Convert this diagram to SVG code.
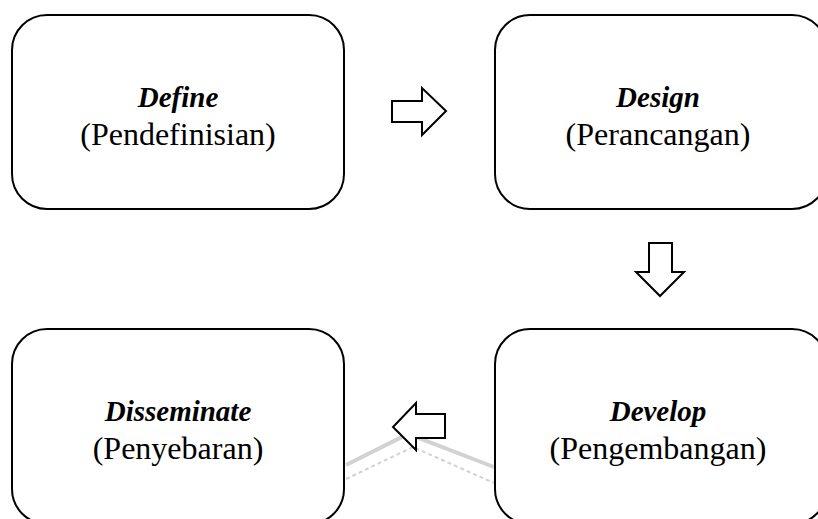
<svg xmlns="http://www.w3.org/2000/svg" width="818" height="519" viewBox="0 0 818 519">
<style>
.box{fill:#fff;stroke:#000;stroke-width:2}
.t1{font-family:"Liberation Serif","Times New Roman",serif;font-size:29px;font-weight:bold;font-style:italic;text-anchor:middle;fill:#000}
.t2{font-family:"Liberation Serif","Times New Roman",serif;font-size:32px;text-anchor:middle;fill:#000}
.arrow{fill:#fff;stroke:#000;stroke-width:2;stroke-linejoin:miter}
.wm{fill:none;stroke:#d2d2d2}
</style>
<rect width="818" height="519" fill="#fff"/>
<g id="watermark">
<polyline class="wm" stroke-width="4" points="346,465 408,434 494,467"/>
<polyline class="wm" stroke-width="2" stroke-dasharray="4,3" points="346,479 413,447 494,483"/>
</g>
<g id="define">
<rect class="box" x="12" y="15" width="332" height="194" rx="35" ry="35"/>
<text class="t1" x="178" y="107">Define</text>
<text class="t2" x="178" y="145">(Pendefinisian)</text>
</g>
<g id="design">
<rect class="box" x="495" y="15" width="332" height="194" rx="35" ry="35"/>
<text class="t1" x="658" y="107">Design</text>
<text class="t2" x="658" y="145">(Perancangan)</text>
</g>
<g id="develop">
<rect class="box" x="495" y="329" width="332" height="195" rx="35" ry="35"/>
<text class="t1" x="658" y="421">Develop</text>
<text class="t2" x="658" y="459">(Pengembangan)</text>
</g>
<g id="disseminate">
<rect class="box" x="12" y="329" width="332" height="195" rx="35" ry="35"/>
<text class="t1" x="178" y="421">Disseminate</text>
<text class="t2" x="178" y="459">(Penyebaran)</text>
</g>
<g id="connectors">
<polygon class="arrow" points="392,101 422,101 422,88 446,111 422,135 422,122 392,122"/>
<polygon class="arrow" points="649,243 672,243 672,272 684,272 660,296 636,272 649,272"/>
<polygon class="arrow" points="445,414 416,414 416,403 393,427 416,450 416,438 445,438"/>
</g>
</svg>
